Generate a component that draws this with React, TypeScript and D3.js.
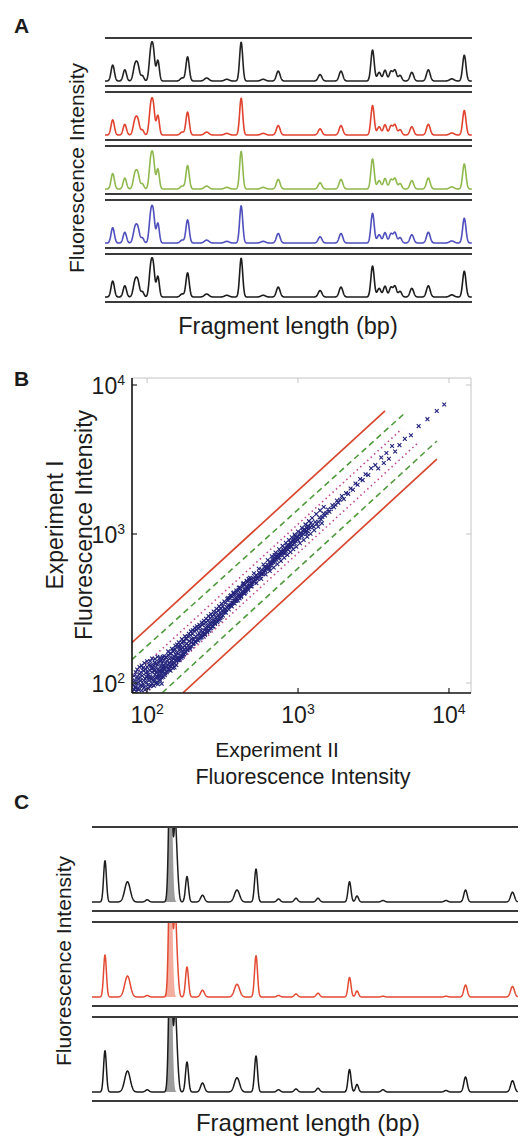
import React from 'react';
import * as d3 from 'd3';

// ---------- Panel A: capillary traces (fragment position in % of run, relative peak height, peak width) ----------
const panelAPeakPos = [2.1, 5.4, 8.2, 9.0, 10.2, 12.5, 13.2, 14.4, 21.0, 22.5, 27.7, 33.2, 37.1, 43.1, 47.2, 58.6, 64.3, 72.9, 74.7, 76.3, 77.9, 79.0, 80.4, 83.6, 88.1, 94.5, 97.9];
const panelAPeakHeight = [0.37, 0.26, 0.36, 0.3, 0.12, 0.7, 0.58, 0.48, 0.07, 0.56, 0.07, 0.04, 0.9, 0.04, 0.23, 0.15, 0.23, 0.72, 0.2, 0.25, 0.22, 0.25, 0.13, 0.2, 0.26, 0.05, 0.6];
const panelAPeakWidth = [0.45, 0.45, 0.5, 0.45, 0.4, 0.45, 0.4, 0.4, 0.5, 0.45, 0.6, 0.6, 0.42, 0.6, 0.5, 0.5, 0.5, 0.45, 0.5, 0.45, 0.45, 0.45, 0.45, 0.5, 0.5, 0.6, 0.45];
const panelATraceGain = [1.0, 0.95, 0.97, 0.96, 1.0];
const panelATraceColors = ['#232323', '#e0432f', '#8fb84e', '#4f4fbd', '#1c1c1c'];

// ---------- Panel C ----------
const panelCPeakPos = [3.05, 8.33, 12.96, 18.43, 19.48, 19.95, 22.3, 25.94, 34.04, 38.5, 43.78, 47.89, 53.05, 60.45, 62.21, 68.31, 83.1, 87.68, 98.71];
const panelCPeakWidth = [0.33, 0.65, 0.4, 0.38, 0.3, 0.35, 0.35, 0.45, 0.6, 0.35, 0.4, 0.4, 0.4, 0.35, 0.35, 0.4, 0.4, 0.4, 0.45];
const panelCHeightsTop = [0.55, 0.27, 0.03, 2.2, 0.87, 0.42, 0.34, 0.09, 0.16, 0.44, 0.04, 0.05, 0.05, 0.27, 0.08, 0.02, 0.02, 0.16, 0.13];
const panelCHeightsMid = [0.56, 0.28, 0.02, 2.2, 0.95, 0.4, 0.4, 0.09, 0.17, 0.55, 0.02, 0.04, 0.05, 0.26, 0.08, 0.01, 0.01, 0.16, 0.14];
const panelCHeightsBottom = [0.55, 0.28, 0.03, 2.2, 0.9, 0.42, 0.4, 0.12, 0.19, 0.48, 0.03, 0.04, 0.05, 0.3, 0.1, 0.03, 0.02, 0.2, 0.15];
const panelCTraceColors = ['#1e1e1e', '#e24a33', '#1a1a1a'];
const panelCSatFill = ['#8c8c8c', '#f2a08e', '#8c8c8c'];

// ---------- Panel B: Experiment II (x) vs Experiment I (y) intensities ----------
const scatterPoints: [number, number][] = [
  [80,88],[81,97],[82,90],[83,104],[84,93],[85,99],[86,110],[87,92],[88,101],[89,115],[90,96],[91,104],[92,89],[93,112],[94,99],[95,121],[96,94],[97,107],[98,117],[99,101],[100,110],[100,128],[101,97],[102,114],[103,104],[104,122],[105,95],[105,111],[106,131],[107,106],[108,118],[108,99],[109,126],[110,109],[111,121],[112,103],[112,137],[113,114],[114,127],[115,108],[116,119],[117,133],[117,101],[118,114],[119,124],[120,110],[121,141],[122,120],[122,104],[123,130],[124,116],[125,124],[125,109],[126,136],
  [127,118],[128,130],[129,143],[130,124],[131,113],[132,135],[133,149],[134,127],[135,118],[136,140],[137,132],[138,154],[139,123],[140,137],[141,146],[142,130],[143,121],[144,158],[145,141],[146,134],[147,148],[148,126],[149,163],[150,145],[151,151],[152,136],[153,169],[154,143],[155,154],[156,132],[157,160],[158,148],[160,175],[161,142],[162,158],[163,166],[164,146],[165,180],[166,153],[168,169],[169,147],[170,186],[171,163],[172,174],[174,155],[175,191],[176,168],[178,178],[179,159],[180,198],[182,172],[183,184],[185,166],[186,205],[188,180],[190,191],[192,174],[194,209],[196,187],[198,197],
  [200,213],[202,183],[204,197],[206,224],[208,190],[210,205],[212,228],[214,196],[216,211],[218,232],[220,199],[222,216],[224,238],[226,208],[228,225],[230,203],[232,245],[234,221],[236,213],[238,250],[240,226],[242,210],[244,235],[246,256],[248,231],[250,219],[252,242],[254,264],[256,238],[258,224],[260,252],[262,272],[264,246],[266,233],[268,258],[270,280],[272,251],[274,240],[276,265],[278,288],[280,261],[282,249],[285,276],[288,298],[290,267],[292,256],[295,283],[298,309],[300,278],[302,265],[305,295],[308,318],[310,289],[312,277],[315,304],
  [318,326],[322,298],[326,312],[330,346],[334,309],[338,323],[342,358],[346,326],[350,332],[354,371],[358,333],[362,346],[366,381],[370,345],[374,358],[378,393],[382,356],[386,373],[390,405],[394,367],[398,385],[402,417],[406,380],[410,393],[415,431],[420,395],[425,410],[430,446],[435,406],[440,424],[445,459],[450,420],[455,441],[460,476],[465,436],[470,451],[475,487],[480,448],[485,466],[490,502],[494,462],[498,476],[440,398],[360,388],[410,370],
  [505,505],[512,476],[520,495],[528,530],[536,500],[544,517],[552,552],[560,522],[568,539],[576,576],[584,543],[592,561],[600,600],[608,566],[616,586],[625,623],[634,592],[643,610],[652,651],[661,617],[670,636],[680,676],[690,645],[700,666],[710,706],[720,672],[730,695],[740,733],[750,700],[760,722],[770,762],[780,728],[790,750],[650,588],[700,722],
  [800,786],[815,740],[830,770],[845,828],[860,785],[875,812],[890,873],[905,826],[920,851],[935,916],[950,866],[965,893],[980,958],[1000,913],[1020,945],[1040,1018],[1060,968],[1080,999],[1100,1075],[1120,1023],[1140,1054],[1160,1131],[1180,1079],[1200,1109],[1220,1190],[1240,1136],[960,970],[1150,1010],
  [1270,1120],[1300,1205],[1330,1170],[1360,1210],[1390,1290],[1420,1250],[1450,1300],[1480,1372],[1510,1330],[1545,1385],[1580,1460],[1615,1410],[1650,1470],[1690,1560],[1730,1515],[1770,1570],[1810,1675],[1850,1620],[1900,1700],[1950,1800],
  [2010,1720],[2080,1880],[2150,1860],[2230,2020],[2310,1980],[2400,2180],[2480,2140],[2580,2340],[2680,2300],[2800,2520],[2920,2490],[3050,2760],
  [3250,2900],[3400,2750],[3560,3260],[3700,3000],[3850,3500],[4000,3200],[4200,3900],[4400,3580],[4700,3950],[5100,4350],[5600,4600],[6300,5300],[7200,5900],[8300,6700],[9300,7400]
];
// wider-spread points of the low-intensity part of the cloud
const scatterPointsLow: [number, number][] = [
  [80,104],[81,84],[82,112],[83,94],[84,118],[85,88],[86,123],[87,106],[88,90],[89,128],[90,109],[91,118],[92,131],[93,95],[94,126],[95,104],[96,136],[97,90],[98,124],[99,110],[100,140],[101,118],[102,92],[103,132],[104,108],[105,140],[106,97],[107,125],[108,146],[109,104],[110,131],[111,96],[112,121],[113,145],[114,100],[115,135],[116,111],[117,150],[118,98],[119,139],[120,120],[121,106],[122,148],[123,112],[124,141],[125,99],[126,121],[127,150],[128,110],[129,128],
  [130,152],[132,116],[134,148],[136,121],[138,163],[140,124],[142,158],[144,129],[146,170],[148,135],[150,168],[152,127],[154,178],[156,140],[158,181],[160,146],[162,188],[164,142],[166,174],[168,152],[170,197],[172,150],[174,189],[176,156],[178,206],[180,162],[183,199],[186,168],[189,214],[192,170],[195,222],[198,176],[201,226],[204,184],[207,235],[210,188],[214,240],[218,193],[222,246],[226,201],[230,255],[234,207],[238,262],[242,214],[246,270],[250,222],
  [255,282],[260,232],[265,290],[270,240],[276,302],[282,252],[288,315],[294,262],[300,327],[306,272],[312,340],[318,284],[325,352],[332,296],[340,368],[348,312],[356,384],[364,326],[372,400],[380,342],[390,418],[400,358],[410,438],[420,378],[432,460],[444,400],[456,486],[468,422],[480,508],[492,444]
];
// points of the middle part of the cloud
const scatterPointsMid: [number, number][] = [
  [330,300],[345,372],[360,330],[375,405],[390,356],[405,436],[420,384],[435,468],[450,410],[470,500],[490,446],[510,545],[530,468],[550,585],[570,500],[590,625],[610,535],[630,668],[650,565],[670,708],[690,596],[710,750],[730,628],[750,790],[770,660],[790,832],[810,692],[830,872],[850,724],[870,912],[890,756],[910,952],[930,790],[950,990],[975,822],[1000,1040],[1030,866],[1060,1100],[1090,912],[1120,1160],[1150,960],[1180,1220],[1210,1005],[1240,1280],[1280,1060],[1320,1360],[1360,1120],[1400,1440],[1440,1180],[1480,1520],
  [520,512],[540,505],[560,545],[580,540],[600,578],[620,598],[640,612],[660,640],[680,655],[700,690],[720,695],[740,705],[760,745],[780,752],[800,768],[820,800],[840,806],[860,842],[880,845],[900,868],[920,896],[940,902],[960,930],[990,950],[1020,985],[1050,1010],[1080,1045],[1110,1070],[1140,1100],[1170,1125]
];

// fold-change bands: endpoints [x0, y0, x1, y1] (red outer, green dashed, magenta dotted)
const redLines: number[][] = [[79, 186, 3770, 6700], [173, 86, 8318, 3184]];
const greenLines: number[][] = [[79, 143, 5105, 6486], [126, 86, 8318, 4207]];
const magentaLines: number[][] = [[79, 110, 4875, 5070], [98, 86, 6223, 4083]];
const logTicks = [100, 1000, 10000];
const tickExponents = ['2', '3', '4'];

const FONT = "'Liberation Sans', Arial, Helvetica, sans-serif";
const TXT = '#1b1b1b';

const grid = d3.range(0, 100.0001, 0.06);

function traceValues(pos: number[], hts: number[], wid: number[], gain = 1) {
  return grid.map((u) => ({
    u,
    v: d3.sum(pos, (p, i) => hts[i] * gain * Math.exp(-0.5 * ((u - p) / wid[i]) ** 2)),
  }));
}

export default function App() {
  const axA = d3.scaleLinear().domain([0, 100]).range([105, 472]);
  const stripsA = panelATraceColors.map((c, i) => {
    const top = 38 + 54 * i;
    return { top, bottom: top + 48, base: top + 43, color: c, gain: panelATraceGain[i] };
  });

  const axC = d3.scaleLinear().domain([0, 100]).range([92, 518]);
  const cHeights = [panelCHeightsTop, panelCHeightsMid, panelCHeightsBottom];
  const stripsC = panelCTraceColors.map((c, i) => {
    const top = 827 + 95 * i;
    return { top, bottom: top + 84, base: top + 75, color: c, hts: cHeights[i], sat: panelCSatFill[i] };
  });

  const xB = d3.scaleLog().domain([Math.pow(10, 1.9), Math.pow(10, 4.146)]).range([132, 471]);
  const yB = d3.scaleLog().domain([Math.pow(10, 1.933), Math.pow(10, 4.047)]).range([693, 378]);
  const [bx0, bx1] = xB.range();
  const [by0, by1] = yB.range();

  const lineFor = (ys: d3.ScaleLinear<number, number>, xs: d3.ScaleLinear<number, number>) =>
    d3.line<{ u: number; v: number }>().x((d) => xs(d.u)).y((d) => ys(d.v));

  const satIndex = 3;
  const allPoints = scatterPoints.concat(scatterPointsLow, scatterPointsMid);
  const ms = 1.9;

  return (
    <svg width={527} height={1137} style={{ position: 'absolute', left: 0, top: 0, display: 'block', background: '#fff' }} fontFamily={FONT}>
      <rect x={0} y={0} width={527} height={1137} fill="#fff" />
      <defs>
        <clipPath id="clipB">
          <rect x={bx0} y={by1} width={bx1 - bx0} height={by0 - by1} />
        </clipPath>
        {stripsC.map((s, i) => (
          <clipPath id={`clipC${i}`} key={i}>
            <rect x={axC(0) - 1} y={s.top} width={axC(100) - axC(0) + 2} height={s.bottom - s.top} />
          </clipPath>
        ))}
      </defs>

      {/* ---------------- Panel A ---------------- */}
      <text x={14} y={33} fontSize={21} fontWeight="bold" fill={TXT}>A</text>
      {stripsA.map((s, i) => {
        const ys = d3.scaleLinear().domain([0, 1]).range([s.base, s.base - 43]);
        const vals = traceValues(panelAPeakPos, panelAPeakHeight, panelAPeakWidth, s.gain);
        return (
          <g key={i}>
            <line x1={axA(0)} x2={axA(100)} y1={s.top} y2={s.top} stroke="#3a3a3a" strokeWidth={2} />
            <line x1={axA(0)} x2={axA(100)} y1={s.bottom} y2={s.bottom} stroke="#3a3a3a" strokeWidth={2} />
            <path d={lineFor(ys, axA)(vals) || ''} fill="none" stroke={s.color} strokeWidth={1.6} strokeLinejoin="round" />
          </g>
        );
      })}
      <text transform="translate(84,168) rotate(-90)" textAnchor="middle" fontSize={21} fill={TXT}>Fluorescence Intensity</text>
      <text x={288} y={334} textAnchor="middle" fontSize={23.5} fill={TXT}>Fragment length (bp)</text>

      {/* ---------------- Panel B ---------------- */}
      <text x={14} y={386} fontSize={21} fontWeight="bold" fill={TXT}>B</text>
      <line x1={bx0} x2={bx1} y1={by1} y2={by1} stroke="#c4c4c4" strokeWidth={1} />
      <line x1={bx1} x2={bx1} y1={by1} y2={by0} stroke="#c4c4c4" strokeWidth={1} />
      <g clipPath="url(#clipB)">
        {redLines.map((l, i) => (
          <line key={`r${i}`} x1={xB(l[0])} y1={yB(l[1])} x2={xB(l[2])} y2={yB(l[3])} stroke="#d8462d" strokeWidth={1.7} />
        ))}
        {greenLines.map((l, i) => (
          <line key={`g${i}`} x1={xB(l[0])} y1={yB(l[1])} x2={xB(l[2])} y2={yB(l[3])} stroke="#4f9a3c" strokeWidth={1.6} strokeDasharray="6,4" />
        ))}
        {magentaLines.map((l, i) => (
          <line key={`m${i}`} x1={xB(l[0])} y1={yB(l[1])} x2={xB(l[2])} y2={yB(l[3])} stroke="#c2488e" strokeWidth={1.6} strokeDasharray="1.5,3.2" />
        ))}
        {allPoints.map((p, i) => {
          const cx = xB(p[0]);
          const cy = yB(p[1]);
          return (
            <path key={i} d={`M${cx - ms},${cy - ms}L${cx + ms},${cy + ms}M${cx - ms},${cy + ms}L${cx + ms},${cy - ms}`} stroke="#24247c" strokeWidth={1.1} />
          );
        })}
      </g>
      {logTicks.map((t, i) => (
        <g key={`t${i}`}>
          {xB(t) > bx0 + 1 && xB(t) < bx1 - 1 && (
            <>
              <line x1={xB(t)} x2={xB(t)} y1={by0} y2={by0 - 5} stroke="#222" strokeWidth={1.2} />
              <line x1={xB(t)} x2={xB(t)} y1={by1} y2={by1 + 5} stroke="#c4c4c4" strokeWidth={1} />
            </>
          )}
          {yB(t) > by1 + 1 && yB(t) < by0 - 1 && (
            <>
              <line x1={bx0} x2={bx0 + 5} y1={yB(t)} y2={yB(t)} stroke="#222" strokeWidth={1.2} />
              <line x1={bx1} x2={bx1 - 5} y1={yB(t)} y2={yB(t)} stroke="#c4c4c4" strokeWidth={1} />
            </>
          )}
          <text x={xB(t)} y={723} textAnchor="middle" fontSize={23} fill={TXT}>
            10<tspan dy={-9} fontSize={14}>{tickExponents[i]}</tspan>
          </text>
          <text x={125} y={yB(t) + 9} textAnchor="end" fontSize={23} fill={TXT}>
            10<tspan dy={-9} fontSize={14}>{tickExponents[i]}</tspan>
          </text>
        </g>
      ))}
      <line x1={bx0} x2={bx1} y1={by0} y2={by0} stroke="#111" strokeWidth={1.6} />
      <line x1={bx0} x2={bx0} y1={by1} y2={by0} stroke="#111" strokeWidth={1.6} />
      <text transform="translate(63,525) rotate(-90)" textAnchor="middle" fontSize={23} fill={TXT}>Experiment I</text>
      <text transform="translate(92,525) rotate(-90)" textAnchor="middle" fontSize={23} fill={TXT}>Fluorescence Intensity</text>
      <text x={277} y={757} textAnchor="middle" fontSize={21} fill={TXT}>Experiment II</text>
      <text x={303} y={784} textAnchor="middle" fontSize={21.5} fill={TXT}>Fluorescence Intensity</text>

      {/* ---------------- Panel C ---------------- */}
      <text x={14} y={809} fontSize={21} fontWeight="bold" fill={TXT}>C</text>
      {stripsC.map((s, i) => {
        const ys = d3.scaleLinear().domain([0, 1]).range([s.base, s.base - 75]);
        const vals = traceValues(panelCPeakPos, s.hts, panelCPeakWidth);
        const satVals = traceValues([panelCPeakPos[satIndex]], [s.hts[satIndex]], [panelCPeakWidth[satIndex]]).filter(
          (d) => Math.abs(d.u - panelCPeakPos[satIndex]) < 2
        );
        const area = d3
          .area<{ u: number; v: number }>()
          .x((d) => axC(d.u))
          .y0(ys(0))
          .y1((d) => ys(d.v));
        return (
          <g key={i}>
            <g clipPath={`url(#clipC${i})`}>
              <path d={area(satVals) || ''} fill={s.sat} opacity={0.85} />
              <path d={lineFor(ys, axC)(vals) || ''} fill="none" stroke={s.color} strokeWidth={1.5} strokeLinejoin="round" />
            </g>
            <line x1={axC(0)} x2={axC(100)} y1={s.top} y2={s.top} stroke="#3a3a3a" strokeWidth={2} />
            <line x1={axC(0)} x2={axC(100)} y1={s.bottom} y2={s.bottom} stroke="#3a3a3a" strokeWidth={2} />
          </g>
        );
      })}
      <text transform="translate(71,961) rotate(-90)" textAnchor="middle" fontSize={21} fill={TXT}>Fluorescence Intensity</text>
      <text x={308} y={1131} textAnchor="middle" fontSize={24} fill={TXT}>Fragment length (bp)</text>
    </svg>
  );
}
